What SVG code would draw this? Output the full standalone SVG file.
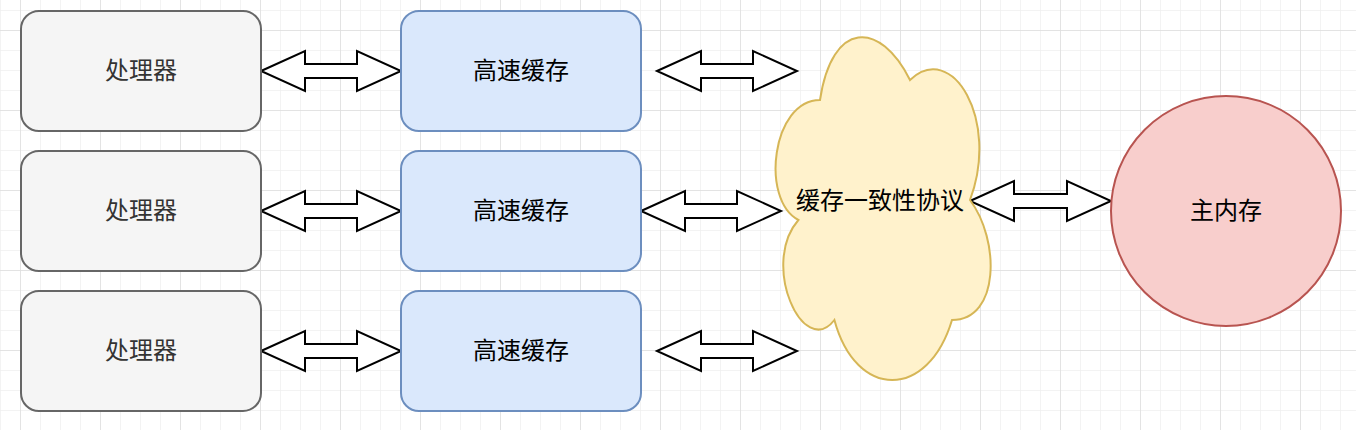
<svg xmlns="http://www.w3.org/2000/svg" width="1356" height="430" viewBox="0 0 1356 430">
<style>
.proc{fill:#f5f5f5;stroke:#666666;stroke-width:2}
.cache{fill:#dae8fc;stroke:#6c8ebf;stroke-width:2}
.cloud{fill:#fff2cc;stroke:#d6b656;stroke-width:2}
.mem{fill:#f8cecc;stroke:#b85450;stroke-width:2}
.arr{fill:#ffffff;stroke:#000000;stroke-width:2;stroke-linejoin:miter}
text{font-family:"Noto Sans CJK SC","Liberation Sans",sans-serif;font-size:24px;text-anchor:middle;fill:#000000}
.pt{fill:#333333}
</style>
<defs>
<pattern id="minor" patternUnits="userSpaceOnUse" x="0" y="10" width="20" height="20">
<path d="M0 0H20M0 0V20" fill="none" stroke="#f0f0f0" stroke-width="1.5"/>
</pattern>
<pattern id="major" patternUnits="userSpaceOnUse" x="20" y="30" width="80" height="80">
<path d="M0 0H80M0 0V80" fill="none" stroke="#dedede" stroke-width="1.5"/>
</pattern>
</defs>
<rect width="1356" height="430" fill="#ffffff"/>
<rect width="1356" height="430" fill="url(#minor)"/>
<rect width="1356" height="430" fill="url(#major)"/>
<g id="connectors">
<polygon class="arr" points="261,71 305,51 305,64 357,64 357,51 401,71 357,91 357,78 305,78 305,91"/>
<polygon class="arr" points="261,211 305,191 305,204 357,204 357,191 401,211 357,231 357,218 305,218 305,231"/>
<polygon class="arr" points="261,351 305,331 305,344 357,344 357,331 401,351 357,371 357,358 305,358 305,371"/>
<polygon class="arr" points="657,71 701,51 701,64 753,64 753,51 797,71 753,91 753,78 701,78 701,91"/>
<polygon class="arr" points="641,211 685,191 685,204 737,204 737,191 781,211 737,231 737,218 685,218 685,231"/>
<polygon class="arr" points="657,351 701,331 701,344 753,344 753,331 797,351 753,371 753,358 701,358 701,371"/>
<polygon class="arr" points="970,201 1014,181 1014,194 1067,194 1067,181 1111,201 1067,221 1067,208 1014,208 1014,221"/>
</g>
<g id="proc1"><rect class="proc" x="21" y="11" width="240" height="120" rx="18"/><text class="pt" x="141" y="79">处理器</text></g>
<g id="proc2"><rect class="proc" x="21" y="151" width="240" height="120" rx="18"/><text class="pt" x="141" y="219">处理器</text></g>
<g id="proc3"><rect class="proc" x="21" y="291" width="240" height="120" rx="18"/><text class="pt" x="141" y="359">处理器</text></g>
<g id="cache1"><rect class="cache" x="401" y="11" width="240" height="120" rx="18"/><text x="521" y="79">高速缓存</text></g>
<g id="cache2"><rect class="cache" x="401" y="151" width="240" height="120" rx="18"/><text x="521" y="219">高速缓存</text></g>
<g id="cache3"><rect class="cache" x="401" y="291" width="240" height="120" rx="18"/><text x="521" y="359">高速缓存</text></g>
<g id="cloud">
<path class="cloud" d="M820 100C772 100 760 200 798.4 220C760 264 803.2 360 834.4 320C856 400 928 400 952 320C1000 320 1000 240 970 200C1000 120 952 40 910 80C880 20 832 20 820 100Z"/>
<text x="880" y="209">缓存一致性协议</text>
</g>
<g id="mem"><circle class="mem" cx="1226" cy="211" r="115"/><text x="1226" y="219">主内存</text></g>
</svg>
